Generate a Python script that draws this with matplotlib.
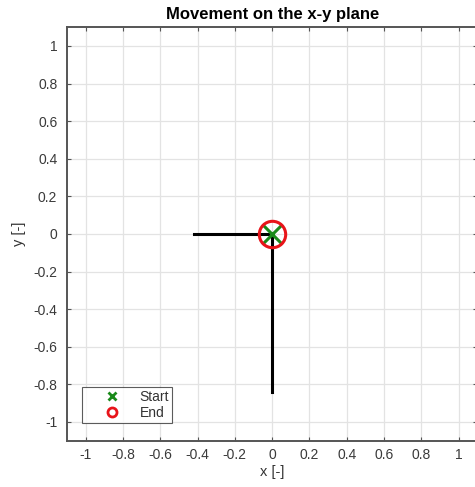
import matplotlib
matplotlib.use("Agg")
import matplotlib.pyplot as plt
from matplotlib.lines import Line2D

plt.rcParams['font.family'] = ['Liberation Sans', 'DejaVu Sans']

# Path on the x-y plane: move left, come back, then move down
path_x = [-0.42, 0.0, 0.0, 0.0]
path_y = [0.0, 0.0, 0.0, -0.84]
start_xy = (0.0, 0.0)
end_xy = (0.0, 0.0)

ticks = [-1, -0.8, -0.6, -0.4, -0.2, 0, 0.2, 0.4, 0.6, 0.8, 1]
tick_labels = ['-1', '-0.8', '-0.6', '-0.4', '-0.2', '0', '0.2', '0.4', '0.6', '0.8', '1']

fig = plt.figure(figsize=(4.75, 4.87), dpi=100)
ax = fig.add_axes([0.1411, 0.0949, 0.8638, 0.8493])

ax.plot(path_x, path_y, color='black', lw=2.2, zorder=3)
ax.plot(*start_xy, marker='x', color='#1a8a1a', ms=15, mew=2.2, ls='none', zorder=4)
ax.plot(*end_xy, marker='o', mfc='none', mec='#e8141a', ms=19, mew=2.2, ls='none', zorder=5)

ax.set_xlim(-1.1, 1.1)
ax.set_ylim(-1.1, 1.1)
ax.set_xticks(ticks)
ax.set_xticklabels(tick_labels)
ax.set_yticks(ticks)
ax.set_yticklabels(tick_labels)
ax.grid(True, color='#e3e3e3', lw=0.9)
ax.set_axisbelow(True)

for s in ax.spines.values():
    s.set_color('#555555')
    s.set_linewidth(1.4)
ax.tick_params(direction='in', length=3, width=0.8, colors='#555555',
               labelcolor='#3a3a3a', labelsize=10, top=True, right=True)
ax.tick_params(axis='x', pad=5)
ax.tick_params(axis='y', pad=7)

ax.set_xlabel('x [-]', fontsize=10.5, color='#333333', labelpad=2)
ax.set_ylabel('y [-]', fontsize=10.5, color='#333333', labelpad=5)
ax.set_title('Movement on the x-y plane', fontsize=12, fontweight='bold', pad=6)

# legend with small markers
handles = [Line2D([], [], marker='x', color='#1a8a1a', ms=5.5, mew=2.0, ls='none'),
           Line2D([], [], marker='o', mfc='none', mec='#e8141a', ms=6.5, mew=2.0, ls='none')]
leg = ax.legend(handles, ['Start', 'End'], loc='lower left', bbox_to_anchor=(0.0366, 0.043),
                fontsize=10, frameon=True, fancybox=False, edgecolor='#333333',
                borderpad=0.2, handletextpad=0.05, labelspacing=0.15, handlelength=3.9,
                borderaxespad=0)
leg.get_frame().set_linewidth(0.8)
for t in leg.get_texts():
    t.set_color('#333333')

fig.savefig('out.png', dpi=100)
